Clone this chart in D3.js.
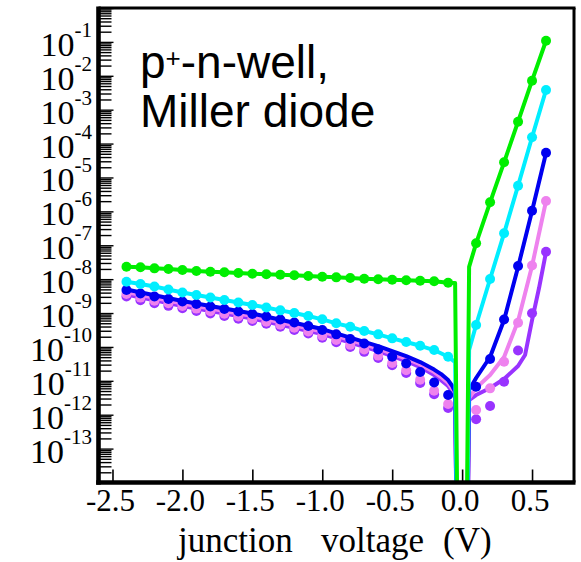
<!DOCTYPE html>
<html><head><meta charset="utf-8">
<script src="https://cdn.jsdelivr.net/npm/d3@7/dist/d3.min.js"></script>
<style>html,body{margin:0;padding:0;background:#fff;}svg{display:block;}</style>
</head><body>
<svg id="chart" width="581" height="562"></svg>
<script>
// ---------- data (junction voltage in V, |current| in A) ----------
const pointVoltages = [-2.4,-2.3,-2.2,-2.1,-2.0,-1.9,-1.8,-1.7,-1.6,-1.5,-1.4,-1.3,-1.2,-1.1,-1.0,-0.9,-0.8,-0.7,-0.6,-0.5,-0.4,-0.3,-0.2,-0.1,0.1,0.2,0.3,0.4,0.5,0.6];

const greenPoints  = [2.32e-8,2.23e-8,2.08e-8,1.99e-8,1.86e-8,1.74e-8,1.66e-8,1.59e-8,1.52e-8,1.45e-8,1.39e-8,1.35e-8,1.30e-8,1.24e-8,1.18e-8,1.13e-8,1.08e-8,1.03e-8,9.9e-9,9.6e-9,9.3e-9,8.98e-9,8.63e-9,7.83e-9,1.14e-7,1.85e-6,2.80e-5,4.42e-4,7.16e-3,0.108];
const cyanPoints   = [8.39e-9,7.18e-9,6.05e-9,4.94e-9,4.03e-9,3.40e-9,2.87e-9,2.42e-9,2.04e-9,1.72e-9,1.46e-9,1.20e-9,1.00e-9,8.16e-10,6.52e-10,4.97e-10,3.94e-10,2.94e-10,2.35e-10,1.79e-10,1.40e-10,1.08e-10,8.09e-11,5.14e-11,4.43e-10,1.01e-8,2.25e-7,5.71e-6,1.53e-4,3.80e-3];
const bluePoints   = [4.77e-9,3.76e-9,3.07e-9,2.59e-9,2.19e-9,1.85e-9,1.56e-9,1.31e-9,1.11e-9,9.35e-10,7.89e-10,6.44e-10,5.25e-10,4.14e-10,3.15e-10,2.35e-10,1.71e-10,1.26e-10,8.38e-11,5.14e-11,3.24e-11,1.82e-11,8.89e-12,3.81e-12,6.70e-12,4.40e-11,6.44e-10,2.44e-8,1.04e-6,5.37e-5];
const pinkPoints   = [3.64e-9,2.85e-9,2.31e-9,1.94e-9,1.61e-9,1.35e-9,1.13e-9,9.48e-10,7.94e-10,6.65e-10,5.57e-10,4.52e-10,3.66e-10,2.84e-10,2.15e-10,1.60e-10,1.15e-10,8.38e-11,5.54e-11,3.37e-11,2.04e-11,1.08e-11,5.07e-12,2.07e-12,1.37e-12,6.00e-12,3.66e-11,5.18e-10,2.52e-8,2.02e-6];
const purplePoints = [3.07e-9,2.40e-9,1.95e-9,1.63e-9,1.38e-9,1.15e-9,9.73e-10,8.16e-10,6.84e-10,5.81e-10,4.84e-10,3.92e-10,3.18e-10,2.48e-10,1.87e-10,1.38e-10,9.93e-11,7.16e-11,4.71e-11,2.88e-11,1.70e-11,8.61e-12,4.02e-12,1.57e-12,7.31e-13,1.80e-12,9.40e-12,7.83e-11,9.80e-10,6.44e-8];

// model curves (current is zero at 0 V; 1e-30 stands for that zero on the log axis)
const greenLineV  = [-2.4,-2.3,-2.2,-2.1,-2.0,-1.9,-1.8,-1.7,-1.6,-1.5,-1.4,-1.3,-1.2,-1.1,-1.0,-0.9,-0.8,-0.7,-0.6,-0.5,-0.4,-0.3,-0.2,-0.1,-0.05,0,0.05,0.1,0.2,0.3,0.4,0.5,0.6];
const greenLineI  = [2.32e-8,2.23e-8,2.08e-8,1.99e-8,1.86e-8,1.74e-8,1.66e-8,1.59e-8,1.52e-8,1.45e-8,1.39e-8,1.35e-8,1.30e-8,1.24e-8,1.18e-8,1.13e-8,1.08e-8,1.03e-8,9.9e-9,9.6e-9,9.3e-9,8.98e-9,8.63e-9,7.83e-9,7.7e-9,1e-30,2.3e-8,1.14e-7,1.85e-6,2.80e-5,4.42e-4,7.16e-3,0.108];
const cyanLineV   = [-2.4,-2.3,-2.2,-2.1,-2.0,-1.9,-1.8,-1.7,-1.6,-1.5,-1.4,-1.3,-1.2,-1.1,-1.0,-0.9,-0.8,-0.7,-0.6,-0.5,-0.4,-0.3,-0.2,-0.1,-0.05,0,0.05,0.1,0.2,0.3,0.4,0.5,0.6];
const cyanLineI   = [8.39e-9,7.18e-9,6.05e-9,4.94e-9,4.03e-9,3.40e-9,2.87e-9,2.42e-9,2.04e-9,1.72e-9,1.46e-9,1.20e-9,1.00e-9,8.16e-10,6.52e-10,4.97e-10,3.94e-10,2.94e-10,2.35e-10,1.79e-10,1.40e-10,1.08e-10,8.09e-11,5.14e-11,3.58e-11,1e-30,8.1e-11,4.43e-10,1.01e-8,2.25e-7,5.71e-6,1.53e-4,3.80e-3];
const blueLineV   = [-2.4,-2.0,-1.5,-1.0,-0.8,-0.6,-0.5,-0.4,-0.3,-0.2,-0.15,-0.1,-0.07,-0.05,0,0.05,0.1,0.2,0.3,0.4,0.5,0.6];
const blueLineI   = [4.94e-9,2.26e-9,9.68e-10,3.37e-10,1.89e-10,1.06e-10,7.57e-11,5.38e-11,3.58e-11,2.15e-11,1.58e-11,1.05e-11,7.02e-12,4.67e-12,1e-30,5.35e-12,1.21e-11,5.04e-11,6.22e-10,2.28e-8,1.02e-6,5.26e-5];
const pinkLineV   = [-2.4,-2.0,-1.5,-1.0,-0.8,-0.6,-0.5,-0.4,-0.3,-0.2,-0.15,-0.1,-0.07,-0.05,0,0.05,0.1,0.2,0.3,0.4,0.5,0.6];
const pinkLineI   = [4.17e-9,1.91e-9,8.16e-10,2.84e-10,1.60e-10,8.97e-11,6.38e-11,4.55e-11,3.03e-11,1.82e-11,1.29e-11,8.61e-12,5.73e-12,3.81e-12,1e-30,3.10e-12,6.12e-12,1.48e-11,5.04e-11,5.81e-10,2.44e-8,2.02e-6];
const purpleLineV = [-2.4,-2.0,-1.5,-1.0,-0.8,-0.6,-0.5,-0.4,-0.3,-0.2,-0.15,-0.1,-0.07,-0.05,0,0.05,0.1,0.2,0.3,0.4,0.45,0.5,0.55,0.6];
const purpleLineI = [3.52e-9,1.61e-9,6.89e-10,2.40e-10,1.35e-10,7.57e-11,5.38e-11,3.84e-11,2.55e-11,1.48e-11,1.05e-11,7.02e-12,4.67e-12,3.10e-12,1e-30,2.71e-12,3.81e-12,6.12e-12,1.13e-11,2.73e-11,5.77e-11,6.22e-10,5.47e-9,6.31e-8];

const xTickValues = [-2.5,-2.0,-1.5,-1.0,-0.5,0.0,0.5];
const xTickLabels = ["-2.5","-2.0","-1.5","-1.0","-0.5","0.0","0.5"];
const yLabelExponents = [-1,-2,-3,-4,-5,-6,-7,-8,-9,-10,-11,-12,-13];
const xTitleWords = ["junction", "voltage", "(V)"];
const noteLines = ["p", "+", "-n-well,", "Miller diode"];

const series = [
  {name:"purple", color:"#9933ff", pts:purplePoints, lv:purpleLineV, li:purpleLineI},
  {name:"pink",   color:"#ee82ee", pts:pinkPoints,   lv:pinkLineV,   li:pinkLineI},
  {name:"blue",   color:"#0000f0", pts:bluePoints,   lv:blueLineV,   li:blueLineI},
  {name:"cyan",   color:"#00eeff", pts:cyanPoints,   lv:cyanLineV,   li:cyanLineI},
  {name:"green",  color:"#00ee00", pts:greenPoints,  lv:greenLineV,  li:greenLineI}
];

// ---------- drawing ----------
const svg = d3.select("#chart");
const L = 98.5, R = 574, T = 8, B = 482.5;
const x = d3.scaleLinear().domain([-2.6, 0.8]).range([L, R]);
const y = d3.scaleLog().domain([1e-14, 1]).range([B, T]);
const serif = "'Liberation Serif', 'Times New Roman', serif";

svg.append("defs").append("clipPath").attr("id","plotclip")
  .append("rect").attr("x", L).attr("y", T).attr("width", R - L).attr("height", B - T);

// y ticks (log minor + major), drawn inward
const minorVals = [], majorVals = [];
for (let e = -14; e <= 0; e++) {
  majorVals.push(Math.pow(10, e));
  if (e < 0) for (let m = 2; m <= 9; m++) minorVals.push(m * Math.pow(10, e));
}
const yMinor = svg.append("g").attr("transform", `translate(${L},0)`)
  .call(d3.axisLeft(y).tickValues(minorVals).tickSize(-13).tickFormat(""));
const yMajor = svg.append("g").attr("transform", `translate(${L},0)`)
  .call(d3.axisLeft(y).tickValues(majorVals).tickSize(-15).tickFormat(""));
[yMinor, yMajor].forEach(g => {
  g.select(".domain").remove();
  g.selectAll(".tick line").attr("stroke", "#000").attr("stroke-width", 1.4);
});

// x ticks, inward
const xAx = svg.append("g").attr("transform", `translate(0,${B})`)
  .call(d3.axisBottom(x).tickValues(xTickValues).tickSize(-13).tickFormat(""));
xAx.select(".domain").remove();
xAx.selectAll(".tick line").attr("stroke", "#000").attr("stroke-width", 1.6);

// x tick labels
svg.append("g").selectAll("text").data(xTickValues).join("text")
  .attr("x", d => x(d) - 2).attr("y", 511)
  .attr("text-anchor", "middle")
  .attr("font-family", serif)
  .attr("font-size", 31).attr("fill", "#000")
  .text((d, i) => xTickLabels[i]);

// y tick labels 10^n
const yl = svg.append("g").selectAll("text").data(yLabelExponents).join("text")
  .attr("x", 92).attr("y", d => y(Math.pow(10, d)) + 14)
  .attr("text-anchor", "end")
  .attr("font-family", serif)
  .attr("font-size", 34).attr("fill", "#000");
yl.append("tspan").text("10");
yl.append("tspan").attr("dy", -19).attr("font-size", 21).text(d => String(d));

// axis title
const title = svg.append("text").attr("y", 552)
  .attr("font-family", serif).attr("font-size", 35).attr("fill", "#000");
const titleX = [178, 321, 443];
title.selectAll("tspan").data(xTitleWords).join("tspan")
  .attr("x", (d, i) => titleX[i]).text(d => d);

// annotation
const note = svg.append("text").attr("x", 140).attr("y", 78)
  .attr("font-family", "'Liberation Sans', Arial, Helvetica, sans-serif")
  .attr("font-size", 46).attr("fill", "#000");
note.append("tspan").text(noteLines[0]);
note.append("tspan").attr("dy", -11).attr("font-size", 26).text(noteLines[1]);
note.append("tspan").attr("dy", 11).text(noteLines[2]);
svg.append("text").attr("x", 140).attr("y", 127)
  .attr("font-family", "'Liberation Sans', Arial, Helvetica, sans-serif")
  .attr("font-size", 46).attr("fill", "#000").text(noteLines[3]);

// series
const line = d3.line().x(d => x(d[0])).y(d => y(d[1]));
const plot = svg.append("g");
series.forEach(s => {
  const g = plot.append("g");
  g.append("path")
    .attr("clip-path", "url(#plotclip)")
    .attr("d", line(s.lv.map((v, i) => [v, s.li[i]])))
    .attr("fill", "none").attr("stroke", s.color).attr("stroke-width", 4)
    .attr("stroke-linejoin", "round");
  g.selectAll("circle").data(pointVoltages.map((v, i) => [v, s.pts[i]])).join("circle")
    .attr("cx", d => x(d[0])).attr("cy", d => y(d[1])).attr("r", 5)
    .attr("fill", s.color);
});

// frame
svg.append("line").attr("x1", L).attr("x2", L).attr("y1", T - 1.5).attr("y2", B + 2.3)
  .attr("stroke", "#000").attr("stroke-width", 4.6);
svg.append("line").attr("x1", L - 2.3).attr("x2", R + 1.5).attr("y1", B).attr("y2", B)
  .attr("stroke", "#000").attr("stroke-width", 4.4);
svg.append("line").attr("x1", L).attr("x2", R + 1.5).attr("y1", T).attr("y2", T)
  .attr("stroke", "#000").attr("stroke-width", 3);
svg.append("line").attr("x1", R).attr("x2", R).attr("y1", T).attr("y2", B)
  .attr("stroke", "#000").attr("stroke-width", 3);
</script>
</body></html>
